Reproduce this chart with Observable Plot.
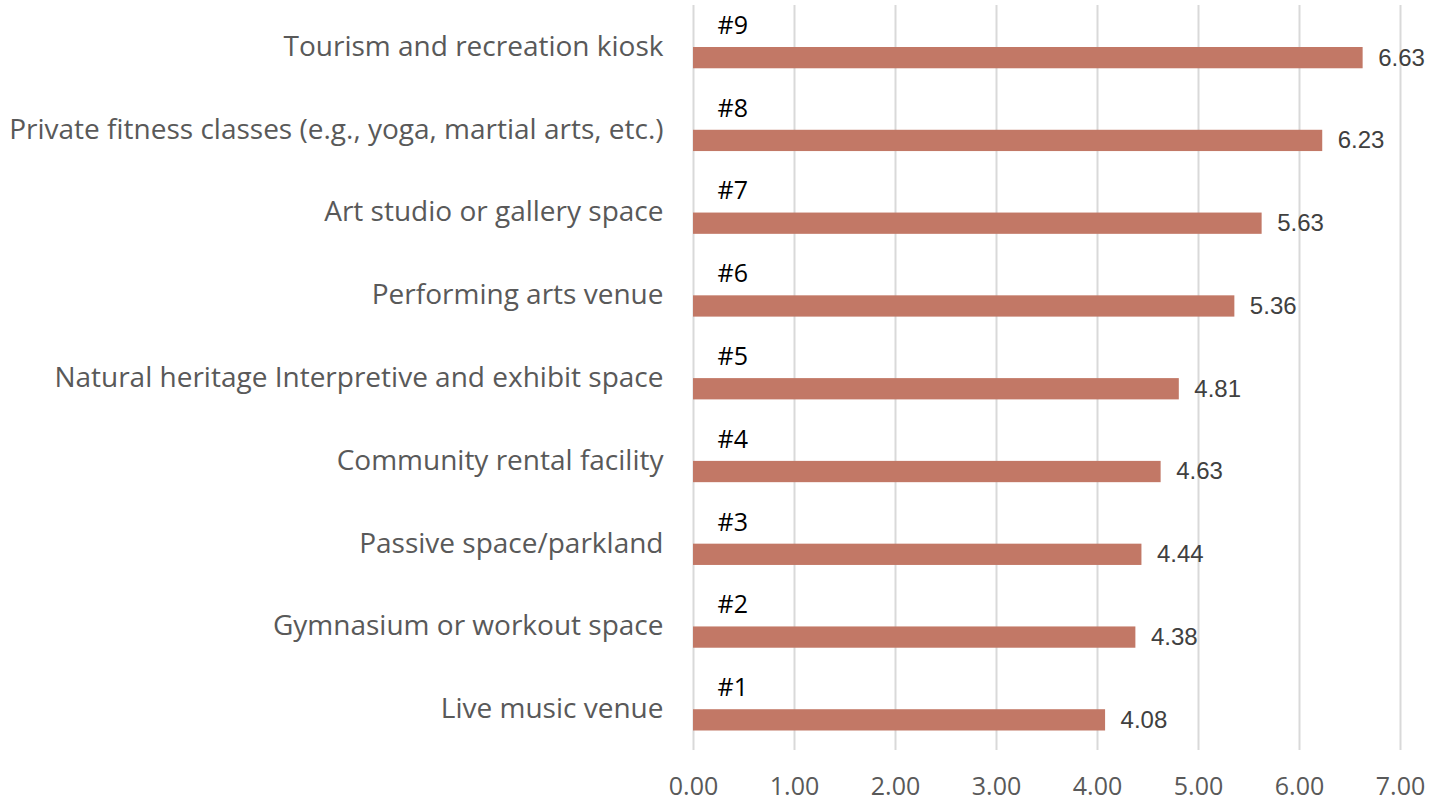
<!DOCTYPE html>
<html>
<head>
<meta charset="utf-8">
<script src="https://cdn.jsdelivr.net/npm/d3@7"></script>
<script src="https://cdn.jsdelivr.net/npm/@observablehq/plot@0.6"></script>
<style>
  html, body { margin: 0; padding: 0; background: #ffffff; }
  #chart svg { display: block; }
</style>
</head>
<body>
<div id="chart"></div>
<script>
// Data (top to bottom as displayed)
const categories = [
  "Tourism and recreation kiosk",
  "Private fitness classes (e.g., yoga, martial arts, etc.)",
  "Art studio or gallery space",
  "Performing arts venue",
  "Natural heritage Interpretive and exhibit space",
  "Community rental facility",
  "Passive space/parkland",
  "Gymnasium or workout space",
  "Live music venue"
];
const values = [6.63, 6.23, 5.63, 5.36, 4.81, 4.63, 4.44, 4.38, 4.08];
const ranks = ["#9", "#8", "#7", "#6", "#5", "#4", "#3", "#2", "#1"];
const xTicks = [0, 1, 2, 3, 4, 5, 6, 7];

const data = categories.map((c, i) => ({category: c, value: values[i], rank: ranks[i]}));

const chart = Plot.plot({
  width: 1431,
  height: 803,
  marginTop: 5,
  marginBottom: 53,
  marginLeft: 693,
  marginRight: 31,
  style: {background: "#ffffff"},
  x: {domain: [0, 7], ticks: xTicks, tickFormat: d3.format(".2f"), label: null},
  y: {domain: categories, padding: 0, round: false, label: null},
  marks: [
    Plot.ruleX(xTicks, {stroke: "#d9d9d9", strokeWidth: 2}),
    Plot.barX(data, {
      x: "value", y: "category", fill: "#C27866",
      insetTop: 42, insetBottom: 19.5
    }),
    Plot.text(data, {
      x: "value", y: "category", text: d => d.value.toFixed(2),
      textAnchor: "start", dx: 15, dy: 11,
      fontFamily: "Liberation Sans, Arial, sans-serif", fontSize: 24, fill: "#404040"
    }),
    Plot.text(data, {
      x: 0, y: "category", text: "rank",
      textAnchor: "start", dx: 24, dy: -21,
      fontFamily: "Open Sans, sans-serif", fontSize: 25, fill: "#000000"
    }),
    Plot.axisX({
      ticks: xTicks, tickFormat: d3.format(".2f"), tickSize: 0, tickPadding: 27,
      fontFamily: "Open Sans, sans-serif", fontSize: 25, color: "#595959", label: null
    }),
    Plot.axisY({
      tickSize: 0, tickPadding: 30,
      fontFamily: "Open Sans, sans-serif", fontSize: 28, color: "#595959", label: null
    })
  ]
});
document.getElementById("chart").appendChild(chart);
</script>
</body>
</html>
